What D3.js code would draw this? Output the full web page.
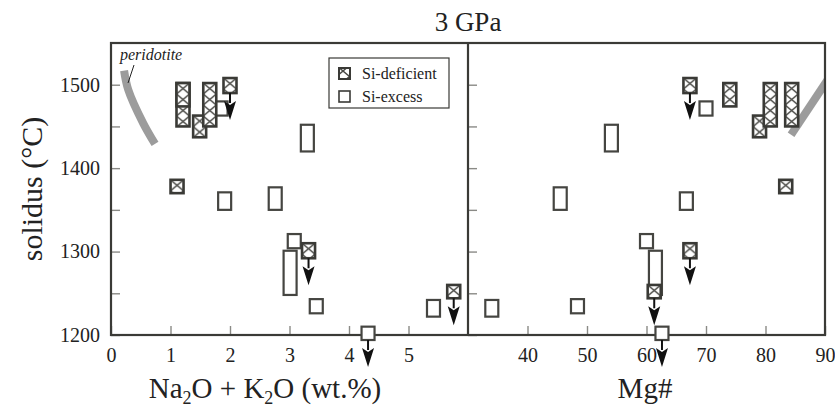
<!DOCTYPE html>
<html>
<head>
<meta charset="utf-8">
<script src="https://cdn.jsdelivr.net/npm/d3@7"></script>
<style>
  body { margin: 0; background: #fff; }
  text { font-family: "Liberation Serif", "Times New Roman", serif; fill: #222; }
</style>
</head>
<body>
<svg id="canvas"></svg>
<script>
// Si-deficient samples (hatched boxes)
const defAlk = [1.21, 1.21, 1.49, 1.66, 2.0, 1.11, 3.32, 5.76];
const defMg = [84.4, 74.0, 79.0, 80.8, 67.3, 83.4, 67.3, 61.3];
const defTlo = [1450, 1474, 1437, 1450, 1490, 1370, 1292, 1244];
const defThi = [1502, 1502, 1463, 1502, 1508, 1386, 1310, 1260];
const defLimit = [false, false, false, false, true, false, true, true];

// Si-excess samples (open boxes)
const excAlk = [1.85, 1.91, 2.76, 3.30, 3.08, 3.01, 3.45, 4.32, 5.42];
const excMg = [70.0, 66.7, 45.5, 54.1, 60.0, 61.5, 48.4, 62.6, 34.0];
const excTlo = [1463, 1350, 1350, 1420, 1304, 1248, 1226, 1194, 1222];
const excThi = [1480, 1371, 1377, 1452, 1321, 1301, 1243, 1210, 1242];
const excLimit = [false, false, false, false, false, false, false, true, false];

// peridotite solidus band
const peridAlk = [0.22, 0.29, 0.54, 0.74];
const peridAlkT = [1517, 1494, 1454, 1429];
const peridMg = [84.3, 91];
const peridMgT = [1440, 1512];

// ticks
const alkTicks = [0, 1, 2, 3, 4, 5];
const mgTicks = [40, 50, 60, 70, 80, 90];
const tTicks = [1200, 1250, 1300, 1350, 1400, 1450, 1500];

const width = 835, height = 412;
const svg = d3.select("#canvas").attr("width", width).attr("height", height);

// panel edges
const pLeft = 111, pMid = 468, pRight = 825, pTop = 43, pBottom = 335;
const frameColor = "#3a3a36";
const tickColor = "#8a8a86";

const xL = d3.scaleLinear().domain([0, 6]).range([pLeft, pMid]);
const xR = d3.scaleLinear().domain([30, 90]).range([pMid, pRight]);
const y = d3.scaleLinear().domain([1200, 1550]).range([pBottom, pTop]);

const defs = svg.append("defs");

// title
svg.append("text")
    .attr("x", pMid).attr("y", 31)
    .attr("text-anchor", "middle")
    .attr("font-size", 27)
    .text("3 GPa");

// clips for the panels
defs.append("clipPath").attr("id", "clipR")
    .append("rect").attr("x", pMid).attr("y", pTop).attr("width", pRight - pMid).attr("height", pBottom - pTop);
defs.append("clipPath").attr("id", "clipL")
    .append("rect").attr("x", pLeft).attr("y", pTop).attr("width", pMid - pLeft).attr("height", pBottom - pTop);

// axes (ticks pointing inward)
function styleAxis(g) {
    g.attr("font-family", null).attr("font-size", null);
    g.select(".domain").remove();
    g.selectAll(".tick line").attr("stroke", tickColor).attr("stroke-width", 1.4);
    g.selectAll(".tick text").attr("font-size", 20).attr("fill", "#222");
}

svg.append("g")
    .attr("transform", `translate(0,${pBottom})`)
    .call(d3.axisBottom(xL).tickValues(alkTicks).tickSize(-9).tickPadding(13).tickFormat(d3.format("d")))
    .call(styleAxis);

svg.append("g")
    .attr("transform", `translate(0,${pBottom})`)
    .call(d3.axisBottom(xR).tickValues(mgTicks).tickSize(-9).tickPadding(13).tickFormat(d3.format("d")))
    .call(styleAxis);

svg.append("g")
    .attr("transform", `translate(${pLeft},0)`)
    .call(d3.axisLeft(y).tickValues(tTicks).tickSize(-9).tickPadding(11)
        .tickFormat(d => d % 100 === 0 ? d : ""))
    .call(styleAxis);

svg.append("g")
    .attr("transform", `translate(${pMid},0)`)
    .call(d3.axisRight(y).tickValues(tTicks).tickSize(9).tickFormat(""))
    .call(styleAxis);

// axis titles
svg.append("text")
    .attr("transform", `translate(42,${(pTop + pBottom) / 2}) rotate(-90)`)
    .attr("text-anchor", "middle")
    .attr("font-size", 30)
    .text("solidus (°C)");

const xt = svg.append("text")
    .attr("x", 265).attr("y", 398)
    .attr("text-anchor", "middle")
    .attr("font-size", 29);
xt.append("tspan").text("Na");
xt.append("tspan").text("2").attr("font-size", 18).attr("dy", 6);
xt.append("tspan").text("O + K").attr("dy", -6);
xt.append("tspan").text("2").attr("font-size", 18).attr("dy", 6);
xt.append("tspan").text("O (wt.%)").attr("dy", -6);

svg.append("text")
    .attr("x", 645).attr("y", 398)
    .attr("text-anchor", "middle")
    .attr("font-size", 29)
    .text("Mg#");

// peridotite band
const lineL = d3.line().x(d => xL(d)).y((d, i) => y(peridAlkT[i])).curve(d3.curveCatmullRom);
svg.append("path")
    .attr("d", lineL(peridAlk))
    .attr("fill", "none").attr("stroke", "#9c9c9c").attr("stroke-width", 8)
    .attr("clip-path", "url(#clipL)");

const lineR = d3.line().x(d => xR(d)).y((d, i) => y(peridMgT[i]));
svg.append("path")
    .attr("d", lineR(peridMg))
    .attr("fill", "none").attr("stroke", "#9c9c9c").attr("stroke-width", 8)
    .attr("clip-path", "url(#clipR)");

svg.append("text")
    .attr("x", 120).attr("y", 60)
    .attr("font-size", 16).attr("font-style", "italic")
    .text("peridotite");
svg.append("line")
    .attr("x1", 134).attr("y1", 65).attr("x2", 128).attr("y2", 83)
    .attr("stroke", "#222").attr("stroke-width", 1);

// markers
const boxW = 13;
let patId = 0;

function hatch(x0, y0) {
    const id = "hatch" + (patId++);
    const p = defs.append("pattern")
        .attr("id", id)
        .attr("patternUnits", "userSpaceOnUse")
        .attr("x", x0).attr("y", y0)
        .attr("width", boxW).attr("height", 11);
    p.append("rect").attr("width", boxW).attr("height", 11).attr("fill", "#fff");
    p.append("path").attr("d", `M0,0L${boxW},11M${boxW},0L0,11`)
        .attr("stroke", "#4a4a46").attr("stroke-width", 1.4);
    return `url(#${id})`;
}

function drawArrow(g, cx, yb) {
    g.append("line")
        .attr("x1", cx).attr("x2", cx).attr("y1", yb).attr("y2", yb + 10)
        .attr("stroke", "#111").attr("stroke-width", 2);
    g.append("path")
        .attr("d", `M${cx - 6},${yb + 8}L${cx},${yb + 12}L${cx + 6},${yb + 8}L${cx},${yb + 27}Z`)
        .attr("fill", "#111");
}

function drawPanel(xScale, excX, defX) {
    const g = svg.append("g");
    // open boxes first
    excX.forEach((v, i) => {
        g.append("rect")
            .attr("x", xScale(v) - boxW / 2).attr("y", y(excThi[i]))
            .attr("width", boxW).attr("height", y(excTlo[i]) - y(excThi[i]))
            .attr("fill", "#fff").attr("stroke", "#454541").attr("stroke-width", 2.2);
    });
    defX.forEach((v, i) => {
        const x0 = xScale(v) - boxW / 2, y0 = y(defThi[i]);
        g.append("rect")
            .attr("x", x0).attr("y", y0)
            .attr("width", boxW).attr("height", y(defTlo[i]) - y0)
            .attr("fill", hatch(x0, y0)).attr("stroke", "#3a3a36").attr("stroke-width", 2.6);
    });
    excX.forEach((v, i) => { if (excLimit[i]) drawArrow(g, xScale(v), y(excTlo[i])); });
    defX.forEach((v, i) => { if (defLimit[i]) drawArrow(g, xScale(v), y(defTlo[i])); });
}

// frame
svg.append("rect")
    .attr("x", pLeft).attr("y", pTop).attr("width", pRight - pLeft).attr("height", pBottom - pTop)
    .attr("fill", "none").attr("stroke", frameColor).attr("stroke-width", 2.2);
svg.append("line")
    .attr("x1", pMid).attr("x2", pMid).attr("y1", pTop).attr("y2", pBottom)
    .attr("stroke", frameColor).attr("stroke-width", 2.2);

drawPanel(xL, excAlk, defAlk);
drawPanel(xR, excMg, defMg);

// legend
const lg = svg.append("g").attr("transform", "translate(329,58)");
lg.append("rect").attr("width", 120).attr("height", 50)
    .attr("fill", "#fff").attr("stroke", "#3a3a36").attr("stroke-width", 1.2);
lg.append("rect").attr("x", 10).attr("y", 10).attr("width", 11).attr("height", 11)
    .attr("fill", hatch(329 + 10, 58 + 10)).attr("stroke", "#3a3a36").attr("stroke-width", 2);
lg.append("rect").attr("x", 10).attr("y", 33).attr("width", 11).attr("height", 11)
    .attr("fill", "#fff").attr("stroke", "#3a3a36").attr("stroke-width", 1.6);
lg.append("text").attr("x", 33).attr("y", 21).attr("font-size", 16).text("Si-deficient");
lg.append("text").attr("x", 33).attr("y", 44).attr("font-size", 16).text("Si-excess");
</script>
</body>
</html>
